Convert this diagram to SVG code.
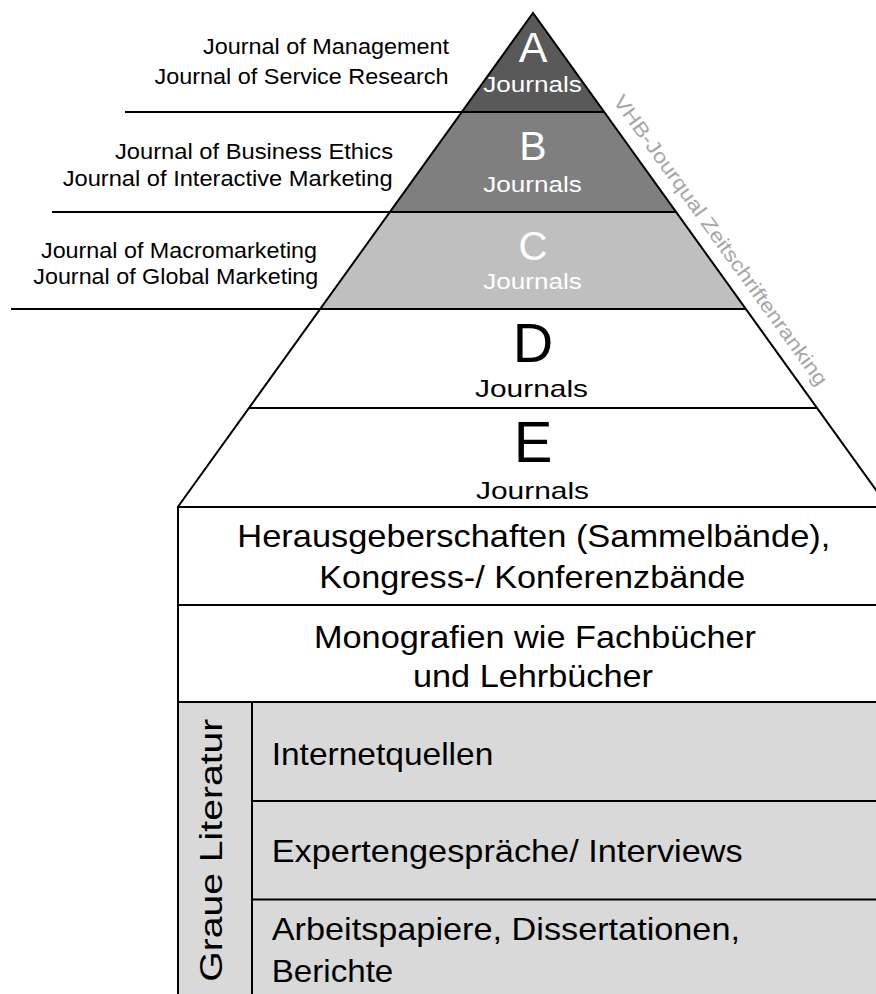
<svg xmlns="http://www.w3.org/2000/svg" width="876" height="994" viewBox="0 0 876 994">
<style>
text{font-family:"Liberation Sans",Arial,sans-serif;}
.ln{stroke:#000;stroke-width:2;fill:none;}
.bx{stroke:#000;stroke-width:2;}
.band{stroke:none;}
.jl{font-size:21.5px;fill:#000;}
.wl{fill:#fff;}
.bl{fill:#000;}
.big{font-size:31.5px;fill:#000;}
.vhb{font-size:20px;fill:#a6a6a6;}
</style>
<rect x="0" y="0" width="876" height="994" fill="#fff"/>

<g id="node-A">
<polygon class="band" points="533,13 604.2,112 461.8,112" fill="#595959"/>
<text class="wl" x="533" y="62" font-size="43" text-anchor="middle">A</text>
<text class="wl" x="483.3" y="91.7" font-size="22" textLength="98.4" lengthAdjust="spacingAndGlyphs">Journals</text>
</g>
<g id="node-B">
<polygon class="band" points="461.8,112 604.2,112 676.1,212 389.9,212" fill="#7f7f7f"/>
<text class="wl" x="533" y="160" font-size="41" text-anchor="middle">B</text>
<text class="wl" x="483.3" y="191.7" font-size="22" textLength="98.4" lengthAdjust="spacingAndGlyphs">Journals</text>
</g>
<g id="node-C">
<polygon class="band" points="389.9,212 676.1,212 745.8,309 320.2,309" fill="#bfbfbf"/>
<text class="wl" x="533" y="260" font-size="40" text-anchor="middle">C</text>
<text class="wl" x="483.3" y="289" font-size="22" textLength="98.4" lengthAdjust="spacingAndGlyphs">Journals</text>
</g>
<g id="node-D">
<polygon class="band" points="320.2,309 745.8,309 817,408 249,408" fill="#fff"/>
<text class="bl" x="533" y="362" font-size="56" text-anchor="middle">D</text>
<text class="bl" x="475" y="397" font-size="24" textLength="113" lengthAdjust="spacingAndGlyphs">Journals</text>
</g>
<g id="node-E">
<polygon class="band" points="249,408 817,408 888.2,507 177.8,507" fill="#fff"/>
<text class="bl" x="533" y="462" font-size="58" text-anchor="middle">E</text>
<text class="bl" x="476" y="498.5" font-size="24" textLength="113" lengthAdjust="spacingAndGlyphs">Journals</text>
</g>

<g id="node-herausgeber">
<rect x="178" y="507" width="702" height="98" fill="#fff" class="bx"/>
<text class="big" x="237.3" y="547" textLength="593" lengthAdjust="spacingAndGlyphs">Herausgeberschaften (Sammelbände),</text>
<text class="big" x="319.3" y="588" textLength="426" lengthAdjust="spacingAndGlyphs">Kongress-/ Konferenzbände</text>
</g>
<g id="node-monografien">
<rect x="178" y="605" width="702" height="97" fill="#fff" class="bx"/>
<text class="big" x="314" y="648" textLength="442" lengthAdjust="spacingAndGlyphs">Monografien wie Fachbücher</text>
<text class="big" x="413" y="687" textLength="240" lengthAdjust="spacingAndGlyphs">und Lehrbücher</text>
</g>
<g id="node-graue">
<rect x="178" y="702" width="702" height="300" fill="#d9d9d9" class="bx"/>
<line class="ln" x1="252" y1="702" x2="252" y2="1000"/>
<text class="big" transform="translate(221.7,981.7) rotate(-90)" x="0" y="0" font-size="31" textLength="263" lengthAdjust="spacingAndGlyphs">Graue Literatur</text>
</g>
<g id="node-internet">
<text class="big" x="271.7" y="765" textLength="221.6" lengthAdjust="spacingAndGlyphs">Internetquellen</text>
</g>
<g id="node-experten">
<line class="ln" x1="252" y1="801" x2="880" y2="801"/>
<text class="big" x="271.7" y="862.3" textLength="471" lengthAdjust="spacingAndGlyphs">Expertengespräche/ Interviews</text>
</g>
<g id="node-arbeitspapiere">
<line class="ln" x1="252" y1="899.5" x2="880" y2="899.5"/>
<text class="big" x="271.7" y="940" textLength="468.3" lengthAdjust="spacingAndGlyphs">Arbeitspapiere, Dissertationen,</text>
<text class="big" x="271.7" y="982.3" textLength="121.6" lengthAdjust="spacingAndGlyphs">Berichte</text>
</g>

<g id="connectors">
<line class="ln" x1="125" y1="112" x2="604.2" y2="112"/>
<line class="ln" x1="52" y1="212" x2="676.1" y2="212"/>
<line class="ln" x1="11" y1="309" x2="745.8" y2="309"/>
<line class="ln" x1="249" y1="408" x2="817" y2="408"/>
<polyline class="ln" points="177.8,507 533,13 888.2,507"/>
</g>

<g id="labels">
<text class="jl" x="203" y="53.5" textLength="246" lengthAdjust="spacingAndGlyphs">Journal of Management</text>
<text class="jl" x="154.5" y="83.5" textLength="294" lengthAdjust="spacingAndGlyphs">Journal of Service Research</text>
<text class="jl" x="115" y="158.5" textLength="278" lengthAdjust="spacingAndGlyphs">Journal of Business Ethics</text>
<text class="jl" x="62.7" y="185.5" textLength="330" lengthAdjust="spacingAndGlyphs">Journal of Interactive Marketing</text>
<text class="jl" x="41" y="258.3" textLength="276" lengthAdjust="spacingAndGlyphs">Journal of Macromarketing</text>
<text class="jl" x="33.3" y="284.3" textLength="285" lengthAdjust="spacingAndGlyphs">Journal of Global Marketing</text>
</g>

<g id="node-vhb">
<text class="vhb" transform="translate(533,13) rotate(54.3)" x="118" y="-13" textLength="352" lengthAdjust="spacingAndGlyphs">VHB-Jourqual Zeitschriftenranking</text>
</g>
</svg>
